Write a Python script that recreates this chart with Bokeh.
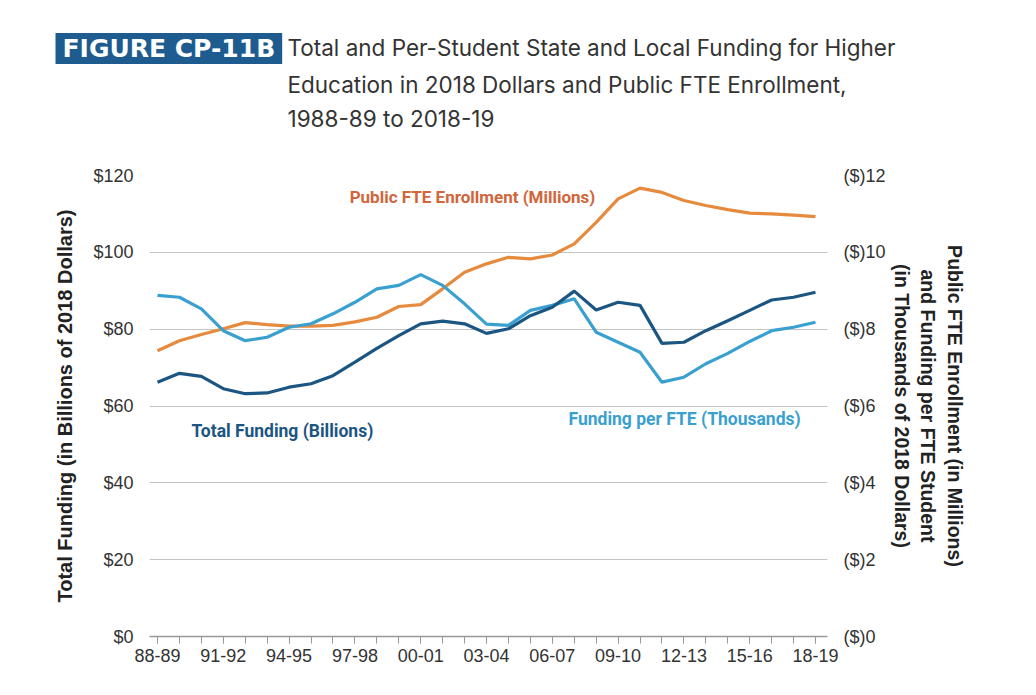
from bokeh.plotting import figure
from bokeh.models import Range1d, LinearAxis, FixedTicker, Label
from bokeh.layouts import column
from bokeh.embed import file_html
from bokeh.resources import INLINE

# ---------------- data ----------------
school_years = ["88-89", "89-90", "90-91", "91-92", "92-93", "93-94", "94-95", "95-96",
                "96-97", "97-98", "98-99", "99-00", "00-01", "01-02", "02-03", "03-04",
                "04-05", "05-06", "06-07", "07-08", "08-09", "09-10", "10-11", "11-12",
                "12-13", "13-14", "14-15", "15-16", "16-17", "17-18", "18-19"]

# Total state and local funding, billions of 2018 dollars (left axis)
total_funding = [66.2, 68.5, 67.7, 64.5, 63.2, 63.4, 64.9, 65.8, 67.9, 71.4, 75.0,
                 78.3, 81.4, 82.1, 81.4, 78.9, 80.1, 83.5, 85.7, 89.9, 85.0, 87.0,
                 86.2, 76.3, 76.6, 79.6, 82.2, 84.9, 87.6, 88.3, 89.6]

# Public FTE enrollment, millions (right axis)
fte_enrollment = [7.44, 7.70, 7.86, 8.01, 8.17, 8.12, 8.08, 8.08, 8.10, 8.19, 8.31,
                  8.59, 8.64, 9.05, 9.48, 9.70, 9.87, 9.83, 9.93, 10.22, 10.78, 11.39,
                  11.67, 11.56, 11.35, 11.22, 11.11, 11.02, 11.00, 10.97, 10.93]

# Funding per FTE student, thousands of 2018 dollars (right axis)
funding_per_fte = [8.88, 8.83, 8.53, 7.96, 7.70, 7.79, 8.05, 8.14, 8.40, 8.70, 9.05,
                   9.14, 9.42, 9.14, 8.66, 8.13, 8.10, 8.49, 8.62, 8.79, 7.92, 7.66,
                   7.40, 6.62, 6.75, 7.10, 7.37, 7.68, 7.96, 8.05, 8.18]

left_ticks = [0, 20, 40, 60, 80, 100, 120]
left_tick_labels = ["$0", "$20", "$40", "$60", "$80", "$100", "$120"]
right_ticks = [0, 2, 4, 6, 8, 10, 12]
right_tick_labels = ["($)0", "($)2", "($)4", "($)6", "($)8", "($)10", "($)12"]

title_tag = "FIGURE CP-11B"
title_lines = ["Total and Per-Student State and Local Funding for Higher",
               "Education in 2018 Dollars and Public FTE Enrollment,",
               "1988-89 to 2018-19"]
left_title = "Total Funding (in Billions of 2018 Dollars)"
right_title = ("Public FTE Enrollment (in Millions)\n"
               "and Funding per FTE Student\n"
               "(in Thousands of 2018 Dollars)")

# ---------------- style ----------------
C_DARK = "#1b5582"
C_LIGHT = "#3aa0cf"
C_ORANGE = "#e68a3e"
C_ORANGE_TXT = "#d2653a"
C_BOX = "#1e5c90"
TXT = "#333333"
AXIS_FONT = "Liberation Sans"
W = 1020
TITLE_H = 150

# ---------------- title strip (its own small figure) ----------------
t = figure(width=W, height=TITLE_H, x_range=Range1d(0, W), y_range=Range1d(TITLE_H, 0),
           output_backend="svg", toolbar_location=None,
           x_axis_type=None, y_axis_type=None, frame_align=False,
           min_border_left=0, min_border_right=0, min_border_top=0, min_border_bottom=0)
t.outline_line_color = None
t.grid.visible = False
t.border_fill_color = "white"
t.background_fill_color = "white"

t.add_layout(Label(x=55, y=48, text=title_tag,
                   text_align="left", text_baseline="middle",
                   text_font="DejaVu Sans", text_font_style="bold",
                   text_font_size="25px", text_color="white",
                   background_fill_color=C_BOX,
                   padding=dict(left=7, right=7, top=1, bottom=1)))
for line, yy in zip(title_lines, [47, 84, 118]):
    t.add_layout(Label(x=287, y=yy, text=line,
                       text_align="left", text_baseline="middle",
                       text_font="Inter", text_font_size="22.5px",
                       text_color=TXT))

# ---------------- main chart ----------------
idx = list(range(len(school_years)))

p = figure(width=W, height=679 - TITLE_H,
           x_range=Range1d(-0.365, 30.547), y_range=Range1d(0, 120),
           output_backend="svg", toolbar_location=None, frame_align=False,
           min_border_left=149, min_border_right=193,
           min_border_top=175 - TITLE_H, min_border_bottom=43)
p.extra_y_ranges = {"right": Range1d(0, 12)}
p.outline_line_color = None
p.background_fill_color = "white"
p.border_fill_color = "white"

p.xgrid.grid_line_color = None
p.ygrid.grid_line_color = "#c4c4c4"
p.ygrid.grid_line_width = 1

# x axis
p.xaxis.ticker = FixedTicker(ticks=idx[::3], minor_ticks=idx)
p.xaxis.major_label_overrides = {i: school_years[i] for i in idx[::3]}
p.xaxis.axis_line_color = "#999999"
p.xaxis.axis_line_width = 1.5
p.xaxis.major_tick_line_color = "#999999"
p.xaxis.minor_tick_line_color = "#999999"
p.xaxis.major_tick_in = 0
p.xaxis.major_tick_out = 7
p.xaxis.minor_tick_in = 0
p.xaxis.minor_tick_out = 7
p.xaxis.major_label_standoff = 5
p.xaxis.major_label_text_font = AXIS_FONT
p.xaxis.major_label_text_font_size = "18px"
p.xaxis.major_label_text_color = TXT

# left axis
p.yaxis.ticker = FixedTicker(ticks=left_ticks)
p.yaxis.major_label_overrides = dict(zip(left_ticks, left_tick_labels))
p.yaxis.axis_line_color = None
p.yaxis.major_tick_line_color = None
p.yaxis.minor_tick_line_color = None
p.yaxis.major_label_standoff = 10
p.yaxis.major_label_text_font = AXIS_FONT
p.yaxis.major_label_text_font_size = "18px"
p.yaxis.major_label_text_color = TXT
p.yaxis.axis_label = left_title
p.yaxis.axis_label_text_font = AXIS_FONT
p.yaxis.axis_label_text_font_style = "bold"
p.yaxis.axis_label_text_font_size = "20px"
p.yaxis.axis_label_text_color = "#222222"
p.yaxis.axis_label_standoff = 14

# right axis
raxis = LinearAxis(y_range_name="right", ticker=FixedTicker(ticks=right_ticks))
raxis.major_label_overrides = dict(zip(right_ticks, right_tick_labels))
raxis.axis_line_color = None
raxis.major_tick_line_color = None
raxis.minor_tick_line_color = None
raxis.major_label_standoff = 10
raxis.major_label_text_font = AXIS_FONT
raxis.major_label_text_font_size = "18px"
raxis.major_label_text_color = TXT
raxis.axis_label = right_title
raxis.axis_label_text_font = AXIS_FONT
raxis.axis_label_text_font_style = "bold"
raxis.axis_label_text_font_size = "19.5px"
raxis.axis_label_text_color = "#222222"
raxis.axis_label_text_line_height = 1.22
raxis.axis_label_standoff = 2
p.add_layout(raxis, "right")

# lines
p.line(idx, fte_enrollment, y_range_name="right", line_color=C_ORANGE, line_width=3.2)
p.line(idx, funding_per_fte, y_range_name="right", line_color=C_LIGHT, line_width=3.2)
p.line(idx, total_funding, line_color=C_DARK, line_width=3.2)

# series labels
lab_font = "Roboto"
p.add_layout(Label(x=14.36, y=114.3, text="Public FTE Enrollment (Millions)",
                   text_align="center", text_baseline="middle",
                   text_font=lab_font, text_font_style="bold",
                   text_font_size="17px", text_color=C_ORANGE_TXT))
p.add_layout(Label(x=1.55, y=53.6, text="Total Funding (Billions)",
                   text_align="left", text_baseline="middle",
                   text_font=lab_font, text_font_style="bold",
                   text_font_size="17.5px", text_color=C_DARK))
p.add_layout(Label(x=18.74, y=56.5, text="Funding per FTE (Thousands)",
                   text_align="left", text_baseline="middle",
                   text_font=lab_font, text_font_style="bold",
                   text_font_size="17.5px", text_color=C_LIGHT))

layout = column(t, p, spacing=0)
open("out.html", "w").write(file_html(layout, INLINE))
